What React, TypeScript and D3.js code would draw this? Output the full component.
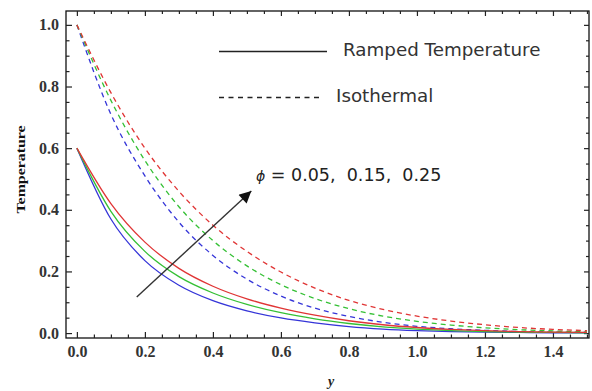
import React, { useEffect, useRef } from 'react';
import * as d3 from 'd3';

// y positions sampled every 0.1
const yPos = [0, 0.1, 0.2, 0.3, 0.4, 0.5, 0.6, 0.7, 0.8, 0.9, 1.0, 1.1, 1.2, 1.3, 1.4, 1.5];

// Ramped temperature (solid)
const rampedBlue = [0.6, 0.37, 0.235, 0.155, 0.105, 0.072, 0.049, 0.033, 0.021, 0.013, 0.008, 0.005, 0.003, 0.002, 0.001, 0.0005];
const rampedGreen = [0.6, 0.395, 0.265, 0.183, 0.13, 0.093, 0.066, 0.046, 0.031, 0.02, 0.013, 0.008, 0.005, 0.003, 0.002, 0.001];
const rampedRed = [0.6, 0.42, 0.295, 0.21, 0.152, 0.111, 0.081, 0.058, 0.04, 0.027, 0.018, 0.012, 0.008, 0.005, 0.003, 0.002];

// Isothermal (dashed)
const isoBlue = [1.0, 0.71, 0.51, 0.36, 0.252, 0.175, 0.12, 0.081, 0.054, 0.035, 0.022, 0.014, 0.009, 0.005, 0.003, 0.002];
const isoGreen = [1.0, 0.755, 0.56, 0.41, 0.3, 0.218, 0.157, 0.112, 0.079, 0.055, 0.038, 0.026, 0.017, 0.011, 0.007, 0.004];
const isoRed = [1.0, 0.78, 0.6, 0.46, 0.35, 0.265, 0.198, 0.146, 0.106, 0.077, 0.055, 0.039, 0.027, 0.018, 0.012, 0.008];

const xTicks = [0, 0.2, 0.4, 0.6, 0.8, 1.0, 1.2, 1.4];
const yTicks = [0, 0.2, 0.4, 0.6, 0.8, 1.0];
const phiLabel = '0.05,  0.15,  0.25';

// arrow in data units
const arrowFrom = [0.176, 0.117];
const arrowTo = [0.513, 0.461];

const colors = { blue: '#3535d8', green: '#35c035', red: '#e03535' };

const App = () => {
  const ref = useRef<SVGSVGElement>(null);

  useEffect(() => {
    const svg = d3.select(ref.current);
    svg.selectAll('*').remove();

    const left = 66, right = 589, top = 11, bottom = 338;
    const x = d3.scaleLinear().domain([-0.032, 1.506]).range([left, right]);
    const y = d3.scaleLinear().domain([-0.016, 1.045]).range([bottom, top]);

    const minorX = d3.range(0, 1.501, 0.05).filter(v => !xTicks.some(t => Math.abs(t - v) < 1e-6));
    const minorY = d3.range(0, 1.001, 0.05).filter(v => !yTicks.some(t => Math.abs(t - v) < 1e-6));

    svg.append('defs').append('marker')
      .attr('id', 'arrowhead')
      .attr('viewBox', '0 0 10 10')
      .attr('refX', 10).attr('refY', 5)
      .attr('markerWidth', 14).attr('markerHeight', 12)
      .attr('markerUnits', 'userSpaceOnUse')
      .attr('orient', 'auto')
      .append('path')
      .attr('d', 'M0,0 L10,5 L0,10 z')
      .attr('fill', '#111');

    // frame
    svg.append('rect')
      .attr('x', left).attr('y', top)
      .attr('width', right - left).attr('height', bottom - top)
      .attr('fill', 'none').attr('stroke', '#111').attr('stroke-width', 1.3);

    const styleAxis = (g: any) => {
      g.select('.domain').remove();
      g.selectAll('line').attr('stroke', '#222').attr('stroke-width', 1.2);
      g.selectAll('text')
        .attr('font-family', '"Liberation Serif", serif')
        .attr('font-weight', 'bold')
        .attr('font-size', 16)
        .attr('fill', '#333');
    };

    // bottom
    svg.append('g').attr('transform', `translate(0,${bottom})`)
      .call(d3.axisBottom(x).tickValues(xTicks).tickSize(-6).tickSizeOuter(0).tickPadding(8).tickFormat(d3.format('.1f')))
      .call(styleAxis);
    svg.append('g').attr('transform', `translate(0,${bottom})`)
      .call(d3.axisBottom(x).tickValues(minorX).tickSize(-3.5).tickSizeOuter(0).tickFormat(() => ''))
      .call(styleAxis);
    // top
    svg.append('g').attr('transform', `translate(0,${top})`)
      .call(d3.axisTop(x).tickValues(xTicks).tickSize(-5).tickSizeOuter(0).tickFormat(() => ''))
      .call(styleAxis);
    svg.append('g').attr('transform', `translate(0,${top})`)
      .call(d3.axisTop(x).tickValues(minorX).tickSize(-3).tickSizeOuter(0).tickFormat(() => ''))
      .call(styleAxis);
    // left
    svg.append('g').attr('transform', `translate(${left},0)`)
      .call(d3.axisLeft(y).tickValues(yTicks).tickSize(-6).tickSizeOuter(0).tickPadding(7).tickFormat(d3.format('.1f')))
      .call(styleAxis);
    svg.append('g').attr('transform', `translate(${left},0)`)
      .call(d3.axisLeft(y).tickValues(minorY).tickSize(-3.5).tickSizeOuter(0).tickFormat(() => ''))
      .call(styleAxis);
    // right
    svg.append('g').attr('transform', `translate(${right},0)`)
      .call(d3.axisRight(y).tickValues(yTicks).tickSize(-5).tickSizeOuter(0).tickFormat(() => ''))
      .call(styleAxis);
    svg.append('g').attr('transform', `translate(${right},0)`)
      .call(d3.axisRight(y).tickValues(minorY).tickSize(-3).tickSizeOuter(0).tickFormat(() => ''))
      .call(styleAxis);

    const line = d3.line<number>()
      .x((_, i) => x(yPos[i]))
      .y(d => y(d))
      .curve(d3.curveMonotoneX);

    const series = [
      { v: isoBlue, c: colors.blue, dash: '5,4' },
      { v: isoGreen, c: colors.green, dash: '5,4' },
      { v: isoRed, c: colors.red, dash: '5,4' },
      { v: rampedBlue, c: colors.blue, dash: null },
      { v: rampedGreen, c: colors.green, dash: null },
      { v: rampedRed, c: colors.red, dash: null },
    ];

    const plot = svg.append('g');
    series.forEach(s => {
      plot.append('path')
        .datum(s.v)
        .attr('d', line)
        .attr('fill', 'none')
        .attr('stroke', s.c)
        .attr('stroke-width', 1.3)
        .attr('stroke-dasharray', s.dash);
    });

    // arrow
    svg.append('line')
      .attr('x1', x(arrowFrom[0])).attr('y1', y(arrowFrom[1]))
      .attr('x2', x(arrowTo[0])).attr('y2', y(arrowTo[1]))
      .attr('stroke', '#333').attr('stroke-width', 1.4)
      .attr('marker-end', 'url(#arrowhead)');

    const sans = '"DejaVu Sans", Verdana, sans-serif';

    // phi annotation
    const phi = svg.append('text')
      .attr('x', 256).attr('y', 181)
      .attr('font-family', sans).attr('font-size', 17.5).attr('fill', '#222')
      .attr('xml:space', 'preserve').style('white-space', 'pre');
    phi.append('tspan').attr('font-style', 'italic').attr('font-size', 14).text('\u03d5');
    phi.append('tspan').text(` = ${phiLabel}`);

    // legend
    svg.append('line').attr('x1', 219).attr('x2', 327).attr('y1', 51.5).attr('y2', 51.5)
      .attr('stroke', '#222').attr('stroke-width', 1.3);
    svg.append('text').attr('x', 343).attr('y', 56)
      .attr('font-family', sans).attr('font-size', 18.3).attr('fill', '#333')
      .text('Ramped Temperature');
    svg.append('line').attr('x1', 219).attr('x2', 323).attr('y1', 97.5).attr('y2', 97.5)
      .attr('stroke', '#222').attr('stroke-width', 1.3).attr('stroke-dasharray', '5,4.5');
    svg.append('text').attr('x', 336).attr('y', 102)
      .attr('font-family', sans).attr('font-size', 18.3).attr('fill', '#333')
      .text('Isothermal');

    // axis titles
    svg.append('text')
      .attr('transform', `translate(25,${(top + bottom) / 2 - 5}) rotate(-90)`)
      .attr('text-anchor', 'middle')
      .attr('font-family', '"Liberation Serif", serif')
      .attr('font-weight', 'bold').attr('font-size', 13)
      .attr('textLength', 88).attr('lengthAdjust', 'spacingAndGlyphs')
      .attr('fill', '#111')
      .text('Temperature');
    svg.append('text')
      .attr('x', 331).attr('y', 386)
      .attr('text-anchor', 'middle')
      .attr('font-family', '"Liberation Serif", serif')
      .attr('font-weight', 'bold').attr('font-style', 'italic').attr('font-size', 14)
      .attr('fill', '#222')
      .text('y');
  }, []);

  return (
    <svg ref={ref} width={592} height={391}
      style={{ position: 'absolute', left: 0, top: 0, background: '#fff' }} />
  );
};

export default App;
